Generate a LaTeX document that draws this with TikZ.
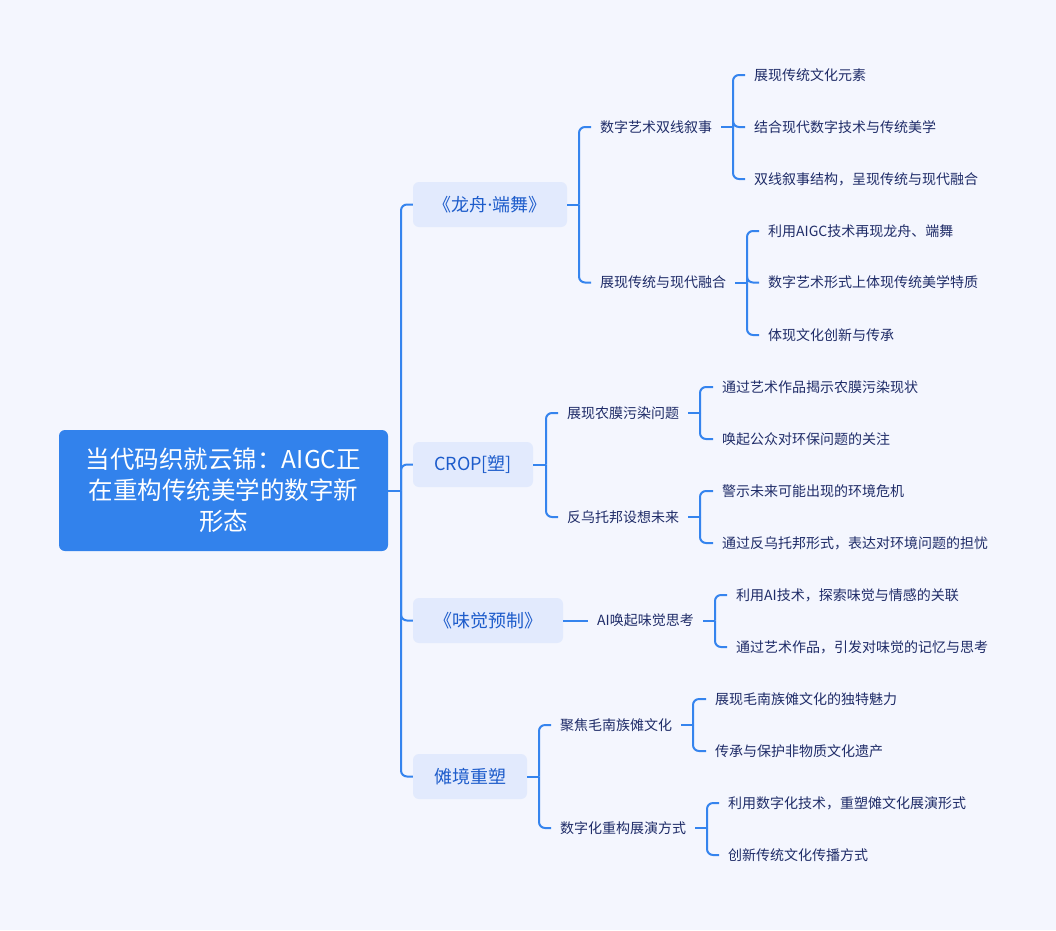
\documentclass[tikz,border=0pt]{standalone}
\usepackage{fontspec}
\setmainfont{Noto Sans CJK SC}
\newfontfamily\latinfont{Noto Sans}
\definecolor{bgc}{HTML}{F4F6FE}
\definecolor{rootc}{HTML}{3282EC}
\definecolor{linec}{HTML}{3584EE}
\definecolor{lfill}{HTML}{E2EAFD}
\definecolor{ltext}{HTML}{1D5CCB}
\definecolor{leaftext}{HTML}{1F2C68}
\begin{document}
\begin{tikzpicture}[x=1pt,y=-1pt,
  conn/.style={draw=linec, line width=2pt, rounded corners=6pt},
  topic/.style={fill=lfill, rounded corners=6pt, text=ltext, font=\fontsize{18}{22}\selectfont, inner sep=0pt, minimum height=45pt},
  sub/.style={anchor=west, inner xsep=9pt, inner ysep=0pt, text=leaftext, font=\fontsize{14}{17}\selectfont}]
\fill[bgc] (0,0) rectangle (1056,930);
\useasboundingbox (0,0) rectangle (1056,930);
% root
\node[fill=rootc, rounded corners=6pt, minimum width=329pt, minimum height=121pt, inner sep=0pt, text=white, align=center, font=\fontsize{24.5}{31}\selectfont] (root) at (223.5,490.5) {当代码织就云锦：AIGC正\\在重构传统美学的数字新\\形态};
% level 1
\node[topic, minimum width=154pt] (t1) at (490,204.5) {《龙舟{\latinfont ·}端舞》};
\node[topic, minimum width=120pt] (t2) at (473,464.5) {CROP[塑]};
\node[topic, minimum width=150pt] (t3) at (488,620.5) {《味觉预制》};
\node[topic, minimum width=114pt] (t4) at (470,776.5) {傩境重塑};
% level 2
\node[sub] (a1) at (591,127) {数字艺术双线叙事};
\node[sub] (a2) at (591,282.5) {展现传统与现代融合};
\node[sub] (b1) at (558,413) {展现农膜污染问题};
\node[sub] (b2) at (558,517) {反乌托邦设想未来};
\node[sub] (c1) at (588,620.5) {AI唤起味觉思考};
\node[sub] (d1) at (551,725) {聚焦毛南族傩文化};
\node[sub] (d2) at (551,828) {数字化重构展演方式};
% leaves
\node[sub] (a11) at (745,75) {展现传统文化元素};
\node[sub] (a12) at (745,127) {结合现代数字技术与传统美学};
\node[sub] (a13) at (745,179) {双线叙事结构，呈现传统与现代融合};
\node[sub] (a21) at (759,231) {利用AIGC技术再现龙舟、端舞};
\node[sub] (a22) at (759,282.5) {数字艺术形式上体现传统美学特质};
\node[sub] (a23) at (759,335) {体现文化创新与传承};
\node[sub] (b11) at (713,387) {通过艺术作品揭示农膜污染现状};
\node[sub] (b12) at (713,439) {唤起公众对环保问题的关注};
\node[sub] (b21) at (713,491) {警示未来可能出现的环境危机};
\node[sub] (b22) at (713,543) {通过反乌托邦形式，表达对环境问题的担忧};
\node[sub] (c11) at (727,595) {利用AI技术，探索味觉与情感的关联};
\node[sub] (c12) at (727,647) {通过艺术作品，引发对味觉的记忆与思考};
\node[sub] (d11) at (706,699) {展现毛南族傩文化的独特魅力};
\node[sub] (d12) at (706,751) {传承与保护非物质文化遗产};
\node[sub] (d21) at (719,803) {利用数字化技术，重塑傩文化展演形式};
\node[sub] (d22) at (719,855) {创新传统文化传播方式};
% junctions
\coordinate (j0) at (401,490.5);
\coordinate (j1) at (579,204.5);
\coordinate (j2) at (546,464.5);
\coordinate (j4) at (539,776.5);
\coordinate (ja1) at (733,127);
\coordinate (ja2) at (747,282.5);
\coordinate (jb1) at (700,413);
\coordinate (jb2) at (700,517);
\coordinate (jc1) at (715,620.5);
\coordinate (jd1) at (693,725);
\coordinate (jd2) at (707,828);
% connectors
\draw[conn] (root.east) -- (j0);
\foreach \t in {t1,t2,t3,t4} \draw[conn] (j0) |- (\t.west);
\draw[conn] (t1.east) -- (j1);
\foreach \c in {a1,a2} \draw[conn] (j1) |- (\c.west);
\draw[conn] (t2.east) -- (j2);
\foreach \c in {b1,b2} \draw[conn] (j2) |- (\c.west);
\draw[conn] (t3.east) -- (c1.west);
\draw[conn] (t4.east) -- (j4);
\foreach \c in {d1,d2} \draw[conn] (j4) |- (\c.west);
\draw[conn] (a1.east) -- (ja1);
\foreach \c in {a11,a12,a13} \draw[conn] (ja1) |- (\c.west);
\draw[conn] (a2.east) -- (ja2);
\foreach \c in {a21,a22,a23} \draw[conn] (ja2) |- (\c.west);
\draw[conn] (b1.east) -- (jb1);
\foreach \c in {b11,b12} \draw[conn] (jb1) |- (\c.west);
\draw[conn] (b2.east) -- (jb2);
\foreach \c in {b21,b22} \draw[conn] (jb2) |- (\c.west);
\draw[conn] (c1.east) -- (jc1);
\foreach \c in {c11,c12} \draw[conn] (jc1) |- (\c.west);
\draw[conn] (d1.east) -- (jd1);
\foreach \c in {d11,d12} \draw[conn] (jd1) |- (\c.west);
\draw[conn] (d2.east) -- (jd2);
\foreach \c in {d21,d22} \draw[conn] (jd2) |- (\c.west);
\end{tikzpicture}
\end{document}
